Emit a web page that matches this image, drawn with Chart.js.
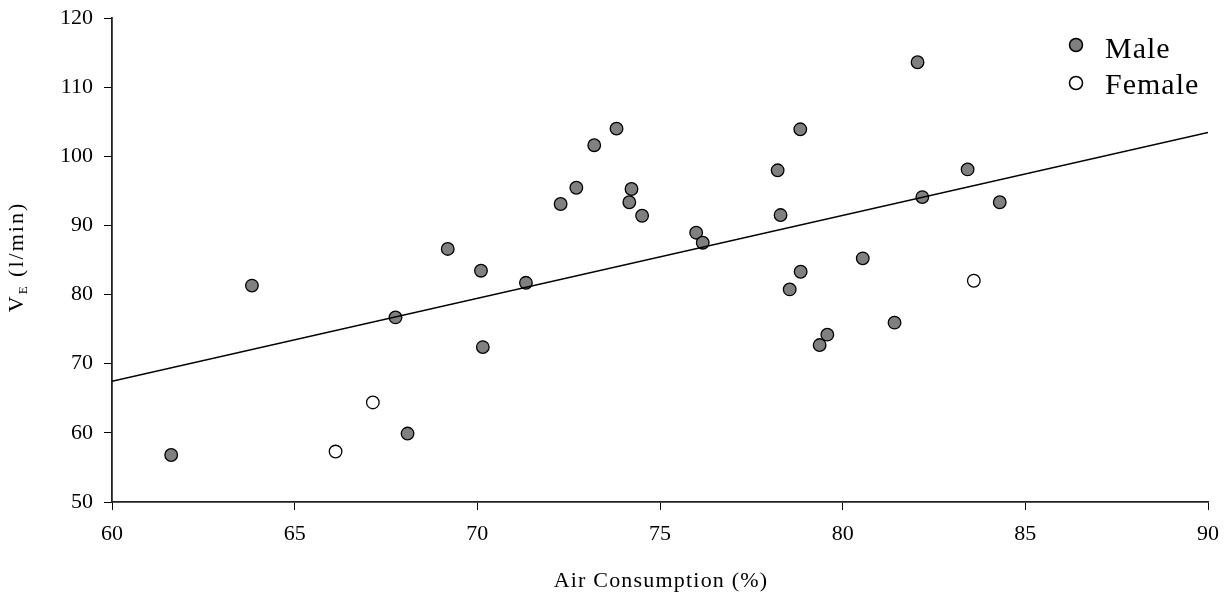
<!DOCTYPE html>
<html>
<head>
<meta charset="utf-8">
<script src="https://cdn.jsdelivr.net/npm/chart.js@4"></script>
<style>
  html, body { margin: 0; padding: 0; background: #fff; }
  #wrap { width: 1231px; height: 596px; }
</style>
</head>
<body>
<div id="wrap"><canvas id="chart" width="1231" height="596"></canvas></div>
<script>
(function () {
  'use strict';

  // valores
  const maleX = [61.62, 63.83, 67.76, 68.09, 69.19, 70.10, 70.15, 71.33, 72.28, 72.71,
    73.20, 73.81, 74.16, 74.22, 74.51, 75.99, 76.17, 78.22, 78.30, 78.55,
    78.84, 78.85, 79.37, 79.58, 80.55, 81.42, 82.05, 82.18, 83.42, 84.30];
  const maleY = [56.8, 81.3, 76.7, 59.9, 86.6, 83.45, 72.4, 81.7, 93.1, 95.45,
    101.6, 104.0, 93.35, 95.27, 91.4, 88.95, 87.5, 97.97, 91.5, 80.75,
    103.9, 83.3, 72.7, 74.2, 85.24, 75.94, 113.6, 94.1, 98.1, 93.35];
  const femaleX = [66.12, 67.14, 83.59];
  const femaleY = [57.3, 64.4, 82.0];
  const fitX = [60, 90];
  const fitY = [67.45, 103.45];
  const xTicks = [60, 65, 70, 75, 80, 85, 90];
  const yTicks = [50, 60, 70, 80, 90, 100, 110, 120];
  const seriesNames = ['Male', 'Female'];
  const xTitle = 'Air Consumption (%)';

  const SERIF = '"Liberation Serif", "Times New Roman", serif';

  function pts(xs, ys) { return xs.map((x, i) => ({ x: x, y: ys[i] })); }

  // legenda dentro da área do gráfico (canto superior direito)
  const legendPlugin = {
    id: 'innerLegend',
    afterDatasetsDraw(chart) {
      const ctx = chart.ctx;
      ctx.save();
      ctx.letterSpacing = '1px';
      const rows = [
        { ds: chart.data.datasets[1], y: 45, ty: 58 },
        { ds: chart.data.datasets[2], y: 83, ty: 94 }
      ];
      rows.forEach(r => {
        ctx.beginPath();
        ctx.arc(1076, r.y, 6.5, 0, Math.PI * 2);
        ctx.fillStyle = r.ds.backgroundColor;
        ctx.fill();
        ctx.lineWidth = 1.5;
        ctx.strokeStyle = '#000';
        ctx.stroke();
        ctx.fillStyle = '#000';
        ctx.font = '30px ' + SERIF;
        ctx.textAlign = 'left';
        ctx.textBaseline = 'alphabetic';
        ctx.fillText(r.ds.label, 1105, r.ty);
      });
      ctx.restore();
    }
  };

  // títulos dos eixos (o do y tem subscrito: V_E (l/min))
  const titlesPlugin = {
    id: 'axisTitles',
    afterDraw(chart) {
      const ctx = chart.ctx;
      const a = chart.chartArea;
      ctx.save();
      ctx.fillStyle = '#000';
      ctx.textBaseline = 'alphabetic';
      ctx.letterSpacing = '1.2px';
      ctx.font = '22px ' + SERIF;
      ctx.textAlign = 'center';
      ctx.fillText(xTitle, (a.left + a.right) / 2 + 1, 587);

      ctx.letterSpacing = '2px';
      ctx.translate(23, 257);
      ctx.rotate(-Math.PI / 2);
      ctx.textAlign = 'left';
      const big = '22px ' + SERIF, small = '13px ' + SERIF;
      ctx.font = big; const wV = ctx.measureText('V').width;
      ctx.font = small; const wE = ctx.measureText('E').width;
      ctx.font = big; const wR = ctx.measureText(' (l/min)').width;
      let x = -(wV + wE + wR) / 2;
      ctx.font = big; ctx.fillText('V', x, 0); x += wV;
      ctx.font = small; ctx.fillText('E', x, 4); x += wE;
      ctx.font = big; ctx.fillText(' (l/min)', x, 0);
      ctx.restore();
    }
  };

  new Chart(document.getElementById('chart'), {
    type: 'scatter',
    data: {
      datasets: [
        {
          type: 'line', label: 'fit', data: pts(fitX, fitY),
          borderColor: '#000', borderWidth: 1.5, pointRadius: 0, fill: false, order: 0
        },
        {
          label: seriesNames[0], data: pts(maleX, maleY),
          backgroundColor: '#808080', borderColor: '#000', borderWidth: 1.3,
          pointRadius: 6.3, order: 1
        },
        {
          label: seriesNames[1], data: pts(femaleX, femaleY),
          backgroundColor: '#ffffff', borderColor: '#000', borderWidth: 1.3,
          pointRadius: 6.3, order: 1
        }
      ]
    },
    options: {
      responsive: false,
      animation: false,
      layout: { padding: { left: 0, top: 18, right: 23, bottom: 0 } },
      plugins: { legend: { display: false }, tooltip: { enabled: false } },
      scales: {
        x: {
          type: 'linear', min: 60, max: 90,
          afterBuildTicks: (s) => { s.ticks = xTicks.map(v => ({ value: v })); },
          afterFit: (s) => { s.height = 94; s.paddingLeft = 0; s.paddingRight = 0; },
          grid: { display: true, drawOnChartArea: false, drawTicks: true, tickLength: 8, color: '#000', lineWidth: 1 },
          border: { display: true, color: '#222', width: 1.8 },
          ticks: { color: '#000', padding: 11, maxRotation: 0, font: { family: SERIF, size: 22 } }
        },
        y: {
          type: 'linear', min: 50, max: 120,
          afterBuildTicks: (s) => { s.ticks = yTicks.map(v => ({ value: v })); },
          afterFit: (s) => { s.width = 112; s.paddingTop = 0; s.paddingBottom = 0; },
          grid: { display: true, drawOnChartArea: false, drawTicks: true, tickLength: 8, color: '#000', lineWidth: 1 },
          border: { display: true, color: '#222', width: 1.8 },
          ticks: { color: '#000', padding: 11, font: { family: SERIF, size: 22 } }
        }
      }
    },
    plugins: [legendPlugin, titlesPlugin]
  });
})();
</script>
</body>
</html>
